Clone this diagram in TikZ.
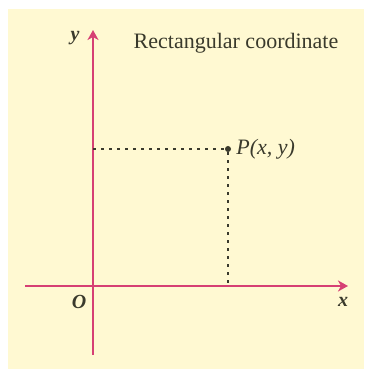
\documentclass[tikz,border=0pt]{standalone}
\usepackage{fontspec}
\usepackage{tikz}
\usepackage{xcolor}
\usetikzlibrary{arrows.meta}
\setmainfont{Liberation Serif}

\definecolor{paper}{RGB}{255,249,210}
\definecolor{axis}{RGB}{214,64,116}
\definecolor{ink}{RGB}{58,58,44}

\begin{document}
\begin{tikzpicture}[x=1pt, y=1pt,
        axisline/.style={draw=axis, line width=2pt, -{Stealth[length=10pt, width=11pt, inset=3pt]}},
        guide/.style={draw=ink, line width=1.8pt, dash pattern=on 3pt off 5pt},
        lbl/.style={text=ink, font=\fontsize{20}{24}\selectfont\itshape},
        axlbl/.style={text=ink, font=\fontsize{20}{24}\selectfont\bfseries\itshape},
    ]
        \useasboundingbox (0,0) rectangle (364,369);
        \fill[white] (0,0) rectangle (364,369);
        \fill[paper] (8,0) rectangle (364,360);

        \coordinate (xs) at (25,83);
        \coordinate (xe) at (348,83);
        \coordinate (ys) at (93,14);
        \coordinate (ye) at (93,339);
        \coordinate (O) at (93,83);
        \coordinate (Px) at (228,83);
        \coordinate (Py) at (93,220);

        \draw[axisline] (xs) -- (xe);
        \draw[axisline] (ys) -- (ye);

        \node (P) at (228,220) [circle, fill=ink, inner sep=0pt, minimum size=6pt] {};
        \draw[guide] (Py) -- (P);
        \draw[guide] (P) -- (Px);

        \node (Plbl) at (P.east) [anchor=west, lbl, font=\fontsize{22}{26}\selectfont\itshape, inner sep=0pt, xshift=5pt] {P(\textit{x}, \textit{y})};
        \node (Olbl) at (79,67) [axlbl] {O};
        \node (xlbl) at (343,67) [axlbl] {x};
        \node (ylbl) at (75,331) [axlbl] {y};
        \node (title) at (236,326) [text=ink, font=\fontsize{22}{26}\selectfont] {Rectangular coordinate};
    \end{tikzpicture}
\end{document}
